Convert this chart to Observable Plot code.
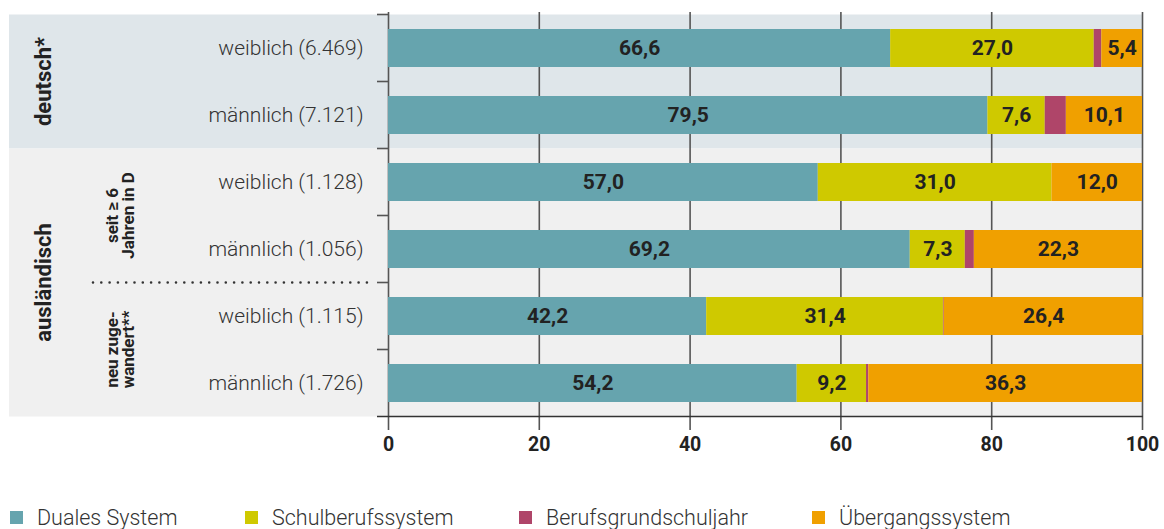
<!DOCTYPE html>
<html>
<head>
<meta charset="utf-8">
<script src="https://cdn.jsdelivr.net/npm/d3@7"></script>
<script src="https://cdn.jsdelivr.net/npm/@observablehq/plot@0.6"></script>
<style>
  html, body { margin: 0; padding: 0; background: #fff; }
  #wrap { position: relative; width: 1164px; height: 529px; font-family: Roboto, "Liberation Sans", sans-serif; }
  #legend { position: absolute; left: 0; top: 503px; height: 28px; width: 1164px; }
  .item { position: absolute; top: 0; height: 28px; display: flex; align-items: center; font-size: 21.5px; font-weight: 300; color: #333; white-space: nowrap; }
  .sw { width: 13px; height: 13px; margin-right: 14px; }
</style>
</head>
<body>
<div id="wrap"><div id="chart"></div><div id="legend"></div></div>
<script>
// ---- data ----
const rows = ["weiblich (6.469)", "männlich (7.121)", "weiblich (1.128)", "männlich (1.056)", "weiblich (1.115)", "männlich (1.726)"];
const rowGroup = ["deutsch*", "deutsch*", "ausländisch", "ausländisch", "ausländisch", "ausländisch"];
const rowSubgroup = ["", "", "seit ≥ 6|Jahren in D", "seit ≥ 6|Jahren in D", "neu zuge-|wandert**", "neu zuge-|wandert**"];
const groupLabels = ["deutsch*", "ausländisch"];
const series = ["Duales System", "Schulberufssystem", "Berufsgrundschuljahr", "Übergangssystem"];
const duales = [66.6, 79.5, 57.0, 69.2, 42.2, 54.2];
const schulberuf = [27.0, 7.6, 31.0, 7.3, 31.4, 9.2];
const berufsgrund = [1.0, 2.8, 0.0, 1.2, 0.1, 0.3];
const uebergang = [5.4, 10.1, 12.0, 22.3, 26.4, 36.3];
const xTicks = [0, 20, 40, 60, 80, 100];
// ---- styles ----
const colors = ["#66a4ae", "#cfc900", "#af4569", "#f0a000"];
const panelColors = ["#dfe6ea", "#f0f0f0"];
const unlabeled = "Berufsgrundschuljahr";

const seriesValues = [duales, schulberuf, berufsgrund, uebergang];
const data = rows.flatMap((r, i) => series.map((s, j) => ({row: r, cat: s, value: seriesValues[j][i]})));
const fmt = v => v.toFixed(1).replace(".", ",");

const chart = Plot.plot({
  width: 1164,
  height: 470,
  marginLeft: 388,
  marginRight: 22,
  marginTop: 12,
  marginBottom: 51,
  style: {fontFamily: "Roboto, 'Liberation Sans', sans-serif", background: "transparent", overflow: "visible"},
  x: {domain: [0, 100]},
  y: {domain: rows, paddingInner: 0.44, paddingOuter: 0.22},
  color: {domain: series, range: colors},
  marks: [
    Plot.ruleX(xTicks, {stroke: "#555", strokeWidth: 1.6}),
    Plot.barX(data, Plot.stackX({x: "value", y: "row", fill: "cat", order: series})),
    Plot.text(data, Plot.stackX({x: "value", y: "row", z: "cat", order: series,
      text: d => d.cat === unlabeled ? "" : fmt(d.value),
      fontWeight: "bold", fontSize: 21, fill: "#222"})),
    Plot.axisX({ticks: xTicks, tickSize: 11, tickPadding: 7, stroke: "#555", strokeWidth: 1.6,
      fill: "#222", fontSize: 19.5, fontWeight: "bold", label: null}),
    Plot.axisY({tickSize: 0, tickPadding: 25, fontSize: 21, fontWeight: 300, fill: "#333", label: null})
  ]
});
document.getElementById("chart").appendChild(chart);

// ---- decorations positioned through the plot's own scales ----
const svg = d3.select(chart);
const xs = chart.scale("x"), ys = chart.scale("y");
const bw = ys.bandwidth;
const step = ys.apply(rows[1]) - ys.apply(rows[0]);
const cellTop = r => ys.apply(r) + bw / 2 - step / 2;
const cellBot = r => ys.apply(r) + bw / 2 + step / 2;
const x0 = xs.apply(0), x100 = xs.apply(100);

// background panels
const bg = svg.insert("g", ":first-child");
groupLabels.forEach((g, gi) => {
  const rs = rows.filter((r, i) => rowGroup[i] === g);
  const top = cellTop(rs[0]), bot = cellBot(rs[rs.length - 1]);
  bg.append("rect").attr("x", 9).attr("y", top).attr("width", x100 + 1 - 9).attr("height", bot - top).attr("fill", panelColors[gi]);
});

const deco = svg.append("g");
// boundary ticks on the y axis
rows.forEach(r => {
  deco.append("line").attr("x1", 377).attr("x2", x0).attr("y1", cellTop(r)).attr("y2", cellTop(r)).attr("stroke", "#555").attr("stroke-width", 1.6);
});
// baseline
const yb = cellBot(rows[rows.length - 1]);
deco.append("line").attr("x1", 377).attr("x2", x100 + 1).attr("y1", yb).attr("y2", yb).attr("stroke", "#333").attr("stroke-width", 1.6);

// group labels
groupLabels.forEach(g => {
  const rs = rows.filter((r, i) => rowGroup[i] === g);
  const cy = (cellTop(rs[0]) + cellBot(rs[rs.length - 1])) / 2;
  deco.append("text").attr("transform", `translate(51,${cy}) rotate(-90)`).attr("text-anchor", "middle")
    .attr("font-size", 22).attr("font-weight", "bold").attr("fill", "#222").text(g);
});

// subgroup labels and dotted separators
const subs = [...new Set(rowSubgroup.filter(s => s))];
subs.forEach((s, si) => {
  const rs = rows.filter((r, i) => rowSubgroup[i] === s);
  const cy = (cellTop(rs[0]) + cellBot(rs[rs.length - 1])) / 2;
  s.split("|").forEach((l, li) => {
    deco.append("text").attr("transform", `translate(${118 + li * 15.5},${cy}) rotate(-90)`)
      .attr("font-size", 17).attr("font-weight", "bold").attr("fill", "#222")
      .attr("text-anchor", "middle").text(l);
  });
  if (si > 0) {
    const yy = cellTop(rs[0]);
    deco.append("line").attr("x1", 93).attr("x2", 368).attr("y1", yy).attr("y2", yy)
      .attr("stroke", "#333").attr("stroke-width", 2.6).attr("stroke-linecap", "round").attr("stroke-dasharray", "0 8.3");
  }
});

// legend
const legend = d3.select("#legend");
const legendLeft = [10, 245, 519, 812];
series.forEach((s, i) => {
  const it = legend.append("div").attr("class", "item").style("left", legendLeft[i] + "px");
  it.append("div").attr("class", "sw").style("background", colors[i]);
  it.append("span").text(s);
});
</script>
</body>
</html>
